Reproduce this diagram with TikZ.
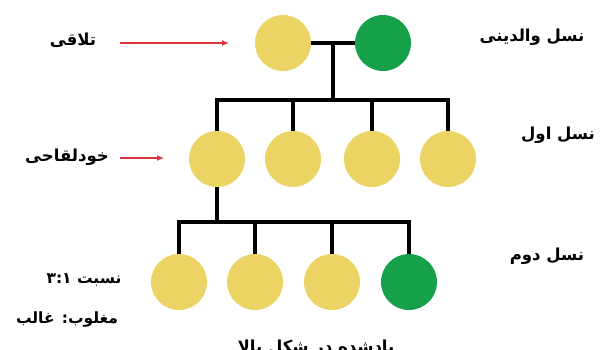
\documentclass[tikz,border=0pt]{standalone}
\usepackage{fontspec}
\newfontfamily\arabicfont[Script=Arabic]{DejaVu Sans}
\TeXXeTstate=1
\usetikzlibrary{arrows.meta,calc}

\definecolor{peayellow}{RGB}{236,212,100}
\definecolor{peagreen}{RGB}{22,160,74}
\definecolor{markred}{RGB}{214,52,58}

\tikzset{
  pea/.style={circle, minimum size=56pt, inner sep=0pt, draw=none},
  yel/.style={pea, fill=peayellow},
  grn/.style={pea, fill=peagreen},
  link/.style={line width=3.2pt, black},
  lbl/.style={font=\arabicfont\bfseries\fontsize{16.5}{19}\selectfont, inner sep=0pt, text=black},
  lblsmall/.style={lbl, font=\arabicfont\bfseries\fontsize{15.5}{18}\selectfont},
  pointer/.style={draw=markred, line width=1.8pt, -{Latex[length=7pt,width=6pt]}}
}

\begin{document}
\begin{tikzpicture}[x=1pt, y=-1pt]
  \useasboundingbox (0,0) rectangle (604,349);
  \clip (0,0) rectangle (604,349);
  \fill[white] (0,0) rectangle (604,349);

  % parents
  \node[yel] (p1) at (283,43) {};
  \node[grn] (p2) at (383,43) {};
  % first generation
  \node[yel] (f1) at (217,159) {};
  \node[yel] (f2) at (293,159) {};
  \node[yel] (f3) at (372,159) {};
  \node[yel] (f4) at (448,159) {};
  % second generation
  \node[yel] (s1) at (179,282) {};
  \node[yel] (s2) at (255,282) {};
  \node[yel] (s3) at (332,282) {};
  \node[grn] (s4) at (409,282) {};

  % junction points
  \coordinate (pm) at ($(p1.east)!0.5!(p2.west)$);
  \coordinate (bar1) at (334,100);
  \coordinate (bar2) at (217,222);

  % cross of the parents
  \draw[link] (p1.east) -- (p2.west);
  \draw[link] (pm) -- (pm |- bar1);
  \draw[link, line cap=rect] (f1.north |- bar1) -- (f4.north |- bar1);
  \foreach \n in {f1,f2,f3,f4}
    \draw[link] (\n.north |- bar1) -- (\n.north);

  % self-pollination of the first plant
  \draw[link] (f1.south) -- (bar2);
  \draw[link, line cap=rect] (s1.north |- bar2) -- (s4.north |- bar2);
  \foreach \n in {s1,s2,s3,s4}
    \draw[link] (\n.north |- bar2) -- (\n.north);

  % labels
  \node[lbl] (cross) at (73,40) {\beginR تلاقی\endR};
  \node[lbl] (gp) at (532,37) {\beginR نسل والدینی\endR};
  \node[lbl] (self) at (67,157) {\beginR خودلقاحی\endR};
  \node[lbl] (g1) at (558,135) {\beginR نسل اول\endR};
  \node[lbl] (g2) at (547,256) {\beginR نسل دوم\endR};
  \node[lblsmall] (ratio) at (84,280) {\beginR نسبت \beginL ۳:۱\endL\endR};
  \node[lblsmall] (dom) at (67,319) {\beginR مغلوب: غالب\endR};
  \node[lbl, anchor=base] (note) at (316,352) {\beginR یادشده در شکل بالا\endR};

  % pointers
  \coordinate (a1) at (120,43);
  \coordinate (a2) at (229,43);
  \coordinate (b1) at (120,158);
  \coordinate (b2) at (164,158);
  \draw[pointer] (a1) -- (a2);
  \draw[pointer] (b1) -- (b2);
\end{tikzpicture}
\end{document}
